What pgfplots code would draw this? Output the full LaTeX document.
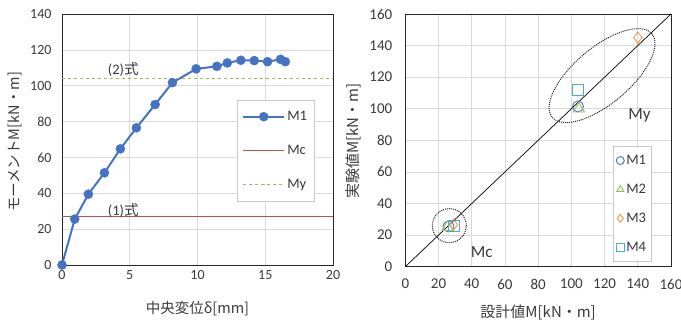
\documentclass[border=0pt]{standalone}
\usepackage{fontspec}
\setmainfont{Carlito}
\newfontfamily\cjk{Noto Sans CJK JP}
\usepackage{pgfplots}
\pgfplotsset{compat=1.18}
\definecolor{cblue}{HTML}{4472C4}
\definecolor{cred}{HTML}{C0504D}
\definecolor{cgreen}{HTML}{9BBB59}
\definecolor{corange}{HTML}{F79646}
\definecolor{ccyan}{HTML}{4BACC6}
\definecolor{txt}{HTML}{3A3A3A}
\begin{document}
\begin{tikzpicture}
\useasboundingbox (0pt,0pt) rectangle (681pt,320pt);
% ---------------- left chart ----------------
\begin{axis}[
  at={(62pt,55pt)}, anchor=south west, scale only axis,
  width=271pt, height=251pt,
  xmin=0, xmax=20, ymin=0, ymax=140,
  xtick={0,5,...,20}, ytick={0,20,...,140},
  grid=major, grid style={draw=gray!30, line width=0.6pt},
  major tick length=0pt,
  axis line style={draw=black!85, line width=0.9pt},
  /pgf/number format/assume math mode=true,
  tick label style={font=\fontsize{14}{16}\selectfont, text=txt},
  yticklabel style={xshift=-7pt},
  xticklabel style={yshift=-1.5pt},
  xlabel={\cjk 中央変位δ[mm]},
  ylabel={\cjk モーメントM[kN・m]},
  label style={font=\cjk\fontsize{14.5}{16}\selectfont, text=txt},
  xlabel style={at={(axis description cs:0.5,-0.175)}, anchor=center},
  ylabel style={at={(axis description cs:-0.172,0.49)}, anchor=center},
  legend style={at={(axis description cs:0.646,0.657)}, anchor=north west,
    draw=gray!45, fill=white, inner xsep=5pt, inner ysep=9pt,
    row sep=19pt, font=\fontsize{14.5}{16}\selectfont, text=txt},
  legend cell align=left,
  legend image code/.code={\draw[mark repeat=2,mark phase=2,#1] plot coordinates {(0pt,0pt)(20.5pt,0pt)(41pt,0pt)};},
]
\addplot[cblue, line width=2pt, mark=*, mark size=4.5pt, mark options={fill=cblue, draw=cblue, line width=0.5pt}] coordinates {
(0,0) (0.94,25.6) (1.95,39.5) (3.13,51.4) (4.31,64.8) (5.49,76.5) (6.87,89.5)
(8.15,101.7) (9.9,109.4) (11.43,110.8) (12.2,112.7) (13.2,114.2) (14.19,114.0)
(15.17,113.4) (16.13,114.7) (16.48,113.4)};
\addlegendentry{M1}
\addplot[cred, line width=0.9pt] coordinates {(0,27) (20,27)};
\addlegendentry{Mc}
\addplot[cgreen, line width=0.9pt, dashed] coordinates {(0,104) (20,104)};
\addlegendentry{My}
\node[font=\fontsize{14.5}{16}\selectfont, text=txt] at (axis cs:4.52,109.3) {(2)\cjk 式};
\node[font=\fontsize{14.5}{16}\selectfont, text=txt] at (axis cs:4.52,30.7) {(1)\cjk 式};
\end{axis}
% ---------------- right chart ----------------
\begin{axis}[
  at={(405.3pt,53.3pt)}, anchor=south west, scale only axis,
  width=265.7pt, height=252.7pt,
  xmin=0, xmax=160, ymin=0, ymax=160,
  xtick={0,20,...,160}, ytick={0,20,...,160},
  grid=major, grid style={draw=gray!30, line width=0.6pt},
  major tick length=0pt,
  axis line style={draw=black!85, line width=0.9pt},
  /pgf/number format/assume math mode=true,
  tick label style={font=\fontsize{15}{17}\selectfont, text=txt},
  yticklabel style={xshift=-9.5pt},
  xticklabel style={yshift=-9pt},
  xlabel={\cjk 設計値M[kN・m]},
  ylabel={\cjk 実験値M[kN・m]},
  label style={font=\cjk\fontsize{15}{17}\selectfont, text=txt},
  xlabel style={at={(axis description cs:0.5,-0.181)}, anchor=center},
  ylabel style={at={(axis description cs:-0.195,0.497)}, anchor=center},
  legend style={at={(axis description cs:0.782,0.478)}, anchor=north west,
    draw=gray!45, fill=white, inner xsep=3pt, inner ysep=7pt,
    row sep=14pt, font=\fontsize{14.5}{16}\selectfont, text=txt},
  legend cell align=left,
  legend image code/.code={\draw[#1, mark size=4pt] plot coordinates {(0pt,0pt)};},
]
\addplot[only marks, mark=o, mark size=5.5pt, draw=cblue, line width=0.9pt] coordinates {(26,25.5) (104,101.5)};
\addlegendentry{M1}
\addplot[only marks, mark=triangle, mark size=6.5pt, draw=cgreen, line width=0.9pt] coordinates {(25.5,25) (104.5,100)};
\addlegendentry{M2}
\addplot[only marks, mark=diamond, mark size=5.5pt, draw=corange, line width=0.9pt] coordinates {(29,26.5) (140,145)};
\addlegendentry{M3}
\addplot[only marks, mark=square, mark size=5.5pt, draw=ccyan, line width=0.9pt] coordinates {(29,25.5) (104,112)};
\addlegendentry{M4}
\addplot[black, line width=0.7pt, forget plot] coordinates {(0,0) (160,160)};
\draw[black!85, densely dotted, line width=1pt] (axis cs:26.5,26) circle [radius=17pt];
\draw[black!85, densely dotted, line width=1pt, rotate around={40:(axis cs:118.5,121)}] (axis cs:118.5,121) ellipse [x radius=65pt, y radius=28pt];
\node[font=\fontsize{17}{19}\selectfont, text=txt] at (axis cs:141,96) {My};
\node[font=\fontsize{17}{19}\selectfont, text=txt] at (axis cs:46,9.5) {Mc};
\end{axis}
\end{tikzpicture}
\end{document}
